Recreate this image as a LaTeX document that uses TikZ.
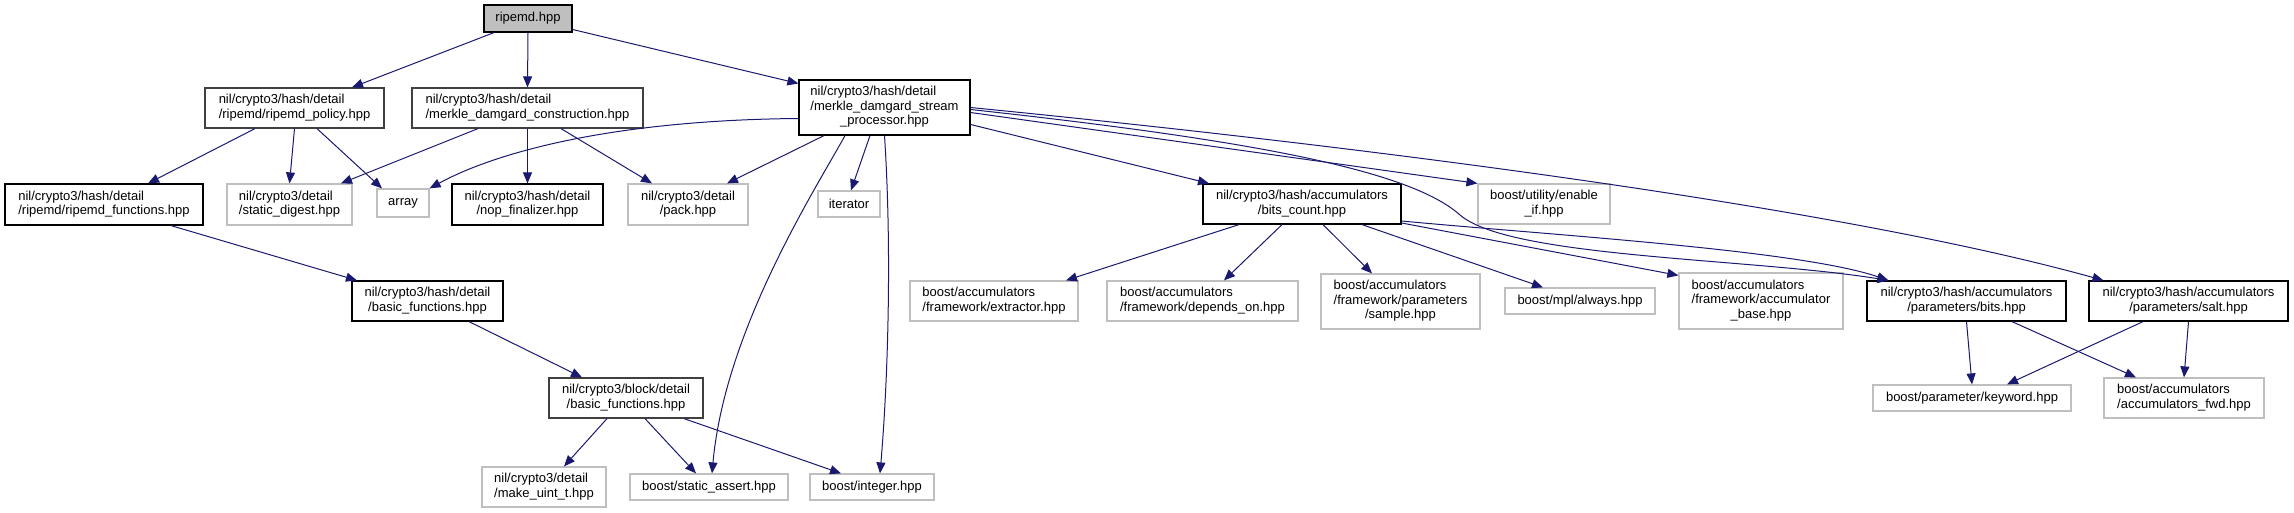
\documentclass[tikz,border=0pt]{standalone}
\usepackage{fontspec}
\setmainfont{Liberation Sans}
\usetikzlibrary{arrows.meta}
\definecolor{edgeblue}{RGB}{25,25,112}
\definecolor{extgray}{RGB}{191,191,191}
\definecolor{midgray}{RGB}{64,64,64}
% first lines left, last line centred
\newcommand{\fname}[2]{\begin{tabular}{@{}l@{}}#1\\\multicolumn{1}{@{}c@{}}{#2}\end{tabular}}

\begin{document}
\begin{tikzpicture}[x=1pt,y=-1pt,
  incfile/.style={rectangle,draw=black,line width=1.2pt,inner sep=0pt,
                  font=\fontsize{13}{14.5}\selectfont},
  extfile/.style={incfile,draw=extgray},
  midfile/.style={incfile,draw=midgray},
  rootfile/.style={incfile,fill=extgray},
  sz/.style 2 args={minimum width=#1pt,minimum height=#2pt},
  incl/.style={draw=edgeblue,line width=1pt,-{Triangle[length=11pt,width=9pt]}},
]
\useasboundingbox (0,0) rectangle (2294,513);
% top rows
\node[rootfile,sz={88}{27}] (ripemd) at (528,18.5) {ripemd.hpp};
\node[midfile,sz={179}{40}] (policy) at (294.5,108)
  {\fname{nil/crypto3/hash/detail}{/ripemd/ripemd\_policy.hpp}};
\node[midfile,sz={231}{40}] (construct) at (527.5,108)
  {\fname{nil/crypto3/hash/detail}{/merkle\_damgard\_construction.hpp}};
\node[incfile,sz={171}{55}] (processor) at (884.5,107.5)
  {\fname{nil/crypto3/hash/detail\\/merkle\_damgard\_stream}{\_processor.hpp}};
\node[incfile,sz={198}{41}] (functions) at (104,204.5)
  {\fname{nil/crypto3/hash/detail}{/ripemd/ripemd\_functions.hpp}};
\node[extfile,sz={125}{41}] (digest) at (289.5,204.5)
  {\fname{nil/crypto3/detail}{/static\_digest.hpp}};
\node[extfile,sz={52}{28}] (array) at (403,203) {array};
\node[incfile,sz={151}{41}] (nop) at (527.5,204.5)
  {\fname{nil/crypto3/hash/detail}{/nop\_finalizer.hpp}};
\node[extfile,sz={120}{41}] (pack) at (688,204.5)
  {\fname{nil/crypto3/detail}{/pack.hpp}};
\node[extfile,sz={62}{26}] (iterator) at (849,204) {iterator};
\node[incfile,sz={198}{40}] (bitscount) at (1302,204)
  {\fname{nil/crypto3/hash/accumulators}{/bits\_count.hpp}};
\node[extfile,sz={132}{40}] (enableif) at (1544,204)
  {\fname{boost/utility/enable}{\_if.hpp}};
% left chain
\node[incfile,sz={151}{40}] (hashbasic) at (427.5,301)
  {\fname{nil/crypto3/hash/detail}{/basic\_functions.hpp}};
\node[midfile,sz={154}{40}] (blockbasic) at (626,398)
  {\fname{nil/crypto3/block/detail}{/basic\_functions.hpp}};
\node[extfile,sz={124}{40}] (makeuint) at (544,487)
  {\fname{nil/crypto3/detail}{/make\_uint\_t.hpp}};
\node[extfile,sz={158}{26}] (staticassert) at (709,487) {boost/static\_assert.hpp};
\node[extfile,sz={124}{26}] (integer) at (872,487) {boost/integer.hpp};
% accumulator row
\node[extfile,sz={168}{40}] (extractor) at (994,301)
  {\fname{boost/accumulators}{/framework/extractor.hpp}};
\node[extfile,sz={191}{40}] (dependson) at (1202.5,301)
  {\fname{boost/accumulators}{/framework/depends\_on.hpp}};
\node[extfile,sz={159}{55}] (sample) at (1400.5,301.5)
  {\fname{boost/accumulators\\/framework/parameters}{/sample.hpp}};
\node[extfile,sz={150}{26}] (always) at (1580,301) {boost/mpl/always.hpp};
\node[extfile,sz={164}{56}] (accbase) at (1761,301)
  {\fname{boost/accumulators\\/framework/accumulator}{\_base.hpp}};
\node[incfile,sz={199}{40}] (bits) at (1966.5,301)
  {\fname{nil/crypto3/hash/accumulators}{/parameters/bits.hpp}};
\node[incfile,sz={199}{40}] (salt) at (2188.5,301)
  {\fname{nil/crypto3/hash/accumulators}{/parameters/salt.hpp}};
\node[extfile,sz={198}{26}] (keyword) at (1972,398) {boost/parameter/keyword.hpp};
\node[extfile,sz={160}{40}] (accfwd) at (2184,398)
  {\fname{boost/accumulators}{/accumulators\_fwd.hpp}};

% includes of ripemd.hpp
\draw[incl] ([xshift=-34pt]ripemd.south) -- ([xshift=57.5pt]policy.north);
\draw[incl] (ripemd.south) -- (construct.north);
\draw[incl] ([yshift=-11pt]ripemd.east) -- ([yshift=24pt]processor.west);
% policy and construction
\draw[incl] ([xshift=-39.5pt]policy.south) -- ([xshift=44pt]functions.north);
\draw[incl] (policy.south) -- (digest.north);
\draw[incl] ([xshift=22.5pt]policy.south) -- ([xshift=-21pt]array.north);
\draw[incl] ([xshift=-49.5pt]construct.south) -- ([xshift=51.5pt]digest.north);
\draw[incl] (construct.south) -- (nop.north);
\draw[incl] ([xshift=33.5pt]construct.south) -- ([xshift=-36pt]pack.north);
% stream processor
\draw[incl] ([yshift=-11pt]processor.west) .. controls (620,120) and (500,150) .. (array.north east);
\draw[incl] ([xshift=-60.5pt]processor.south) -- ([xshift=39pt]pack.north);
\draw[incl] ([xshift=-14.5pt]processor.south) -- ([xshift=2pt]iterator.north);
\draw[incl] ([xshift=-39.5pt]processor.south) .. controls (815,190) and (725,330) .. ([xshift=3pt]staticassert.north);
\draw[incl] (processor.south) .. controls (892,250) and (888,380) .. ([xshift=8pt]integer.north);
\draw[incl] ([yshift=-17pt]processor.east) -- ([xshift=-93pt]bitscount.north);
\draw[incl] ([yshift=-5pt]processor.east) -- (enableif.north west);
\draw[incl] ([yshift=-2pt]processor.east) .. controls (1250,140) and (1410,170) .. (1460,215)
  .. controls (1510,258) and (1750,258) .. ([xshift=22pt]bits.north west);
\draw[incl] (processor.east) .. controls (1400,150) and (1850,210) .. ([xshift=-85pt]salt.north);
% bits_count
\draw[incl] ([xshift=-63pt]bitscount.south) -- ([xshift=72pt]extractor.north);
\draw[incl] ([xshift=-20pt]bitscount.south) -- ([xshift=21.5pt]dependson.north);
\draw[incl] ([xshift=21pt]bitscount.south) -- ([xshift=-28.5pt]sample.north);
\draw[incl] ([xshift=60pt]bitscount.south) -- ([xshift=-37pt]always.north);
\draw[incl] ([yshift=-19pt]bitscount.east) -- ([yshift=-3pt]accbase.north west);
\draw[incl] ([yshift=-17pt]bitscount.east) .. controls (1550,235) and (1800,250) .. ([xshift=22pt]bits.north west);
% left chain
\draw[incl] ([xshift=67pt]functions.south) -- ([xshift=-70.5pt]hashbasic.north);
\draw[incl] ([xshift=41.5pt]hashbasic.south) -- ([xshift=-44pt]blockbasic.north);
\draw[incl] ([xshift=-19pt]blockbasic.south) -- ([xshift=20pt]makeuint.north);
\draw[incl] ([xshift=19pt]blockbasic.south) -- ([xshift=-13pt]staticassert.north);
\draw[incl] ([xshift=58pt]blockbasic.south) -- ([xshift=-31pt]integer.north);
% parameters
\draw[incl] (bits.south) -- (keyword.north);
\draw[incl] ([xshift=45.5pt]bits.south) -- ([xshift=-48pt]accfwd.north);
\draw[incl] ([xshift=-45.5pt]salt.south) -- ([xshift=35pt]keyword.north);
\draw[incl] (salt.south) -- (accfwd.north);
\end{tikzpicture}
\end{document}
